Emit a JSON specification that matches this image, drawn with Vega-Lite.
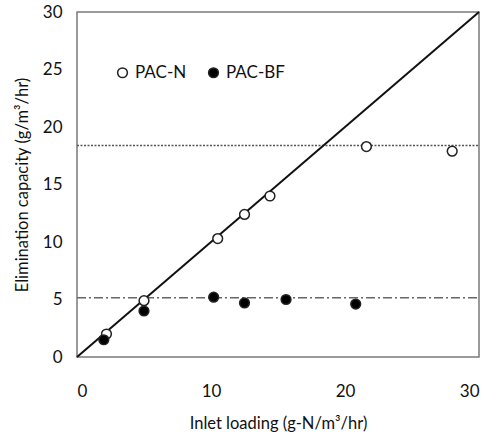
{
  "$schema": "https://vega.github.io/schema/vega-lite/v6.json",
  "width": 402,
  "height": 345,
  "autosize": {"type": "none"},
  "padding": {"left": 77, "top": 12, "right": 16, "bottom": 75},
  "background": "white",
  "config": {
    "font": "Lato",
    "view": {"stroke": "#7a7a7a", "strokeWidth": 1.5},
    "axis": {
      "ticks": false,
      "domain": false,
      "grid": false,
      "labelFont": "Lato",
      "labelFontSize": 17,
      "labelColor": "#111",
      "titleFont": "Lato",
      "titleFontSize": 16.5,
      "titleFontWeight": "normal",
      "titleColor": "#111"
    },
    "legend": {
      "orient": "none",
      "direction": "horizontal",
      "legendX": 37,
      "legendY": 52,
      "padding": 0,
      "labelFont": "Lato",
      "labelFontSize": 17,
      "labelColor": "#111",
      "symbolSize": 95,
      "symbolStrokeColor": "#222",
      "symbolStrokeWidth": 1.5,
      "labelOffset": 4,
      "columnPadding": 18,
      "title": null
    }
  },
  "datasets": {
    "pts": [
      {"series": "PAC-N", "x": 2.2, "y": 2.0},
      {"series": "PAC-N", "x": 5.0, "y": 4.9},
      {"series": "PAC-N", "x": 10.5, "y": 10.3},
      {"series": "PAC-N", "x": 12.5, "y": 12.4},
      {"series": "PAC-N", "x": 14.4, "y": 14.0},
      {"series": "PAC-N", "x": 21.6, "y": 18.3},
      {"series": "PAC-N", "x": 28.0, "y": 17.9},
      {"series": "PAC-BF", "x": 2.0, "y": 1.5},
      {"series": "PAC-BF", "x": 5.0, "y": 4.0},
      {"series": "PAC-BF", "x": 10.2, "y": 5.2},
      {"series": "PAC-BF", "x": 12.5, "y": 4.7},
      {"series": "PAC-BF", "x": 15.6, "y": 5.0},
      {"series": "PAC-BF", "x": 20.8, "y": 4.6}
    ],
    "lines": [
      {"line": "one", "x": 0, "y": 0},
      {"line": "one", "x": 30, "y": 30},
      {"line": "capN", "x": 0, "y": 18.4},
      {"line": "capN", "x": 30, "y": 18.4},
      {"line": "capBF", "x": 0, "y": 5.15},
      {"line": "capBF", "x": 30, "y": 5.15}
    ]
  },
  "encoding": {
    "x": {
      "field": "x",
      "type": "quantitative",
      "scale": {"domain": [0, 30], "nice": false},
      "axis": {"values": [0, 10, 20, 30], "labelPadding": 26, "titlePadding": 16},
      "title": "Inlet loading (g-N/m³/hr)"
    },
    "y": {
      "field": "y",
      "type": "quantitative",
      "scale": {"domain": [0, 30], "nice": false},
      "axis": {"values": [0, 5, 10, 15, 20, 25, 30], "labelPadding": 15, "titlePadding": 12},
      "title": "Elimination capacity (g/m³/hr)"
    }
  },
  "layer": [
    {
      "data": {"name": "lines"},
      "transform": [{"filter": "datum.line === 'capN'"}],
      "mark": {"type": "line", "color": "#555", "strokeWidth": 1.5, "strokeDash": [2, 1.5]},
      "encoding": {}
    },
    {
      "data": {"name": "lines"},
      "transform": [{"filter": "datum.line === 'capBF'"}],
      "mark": {"type": "line", "color": "#666", "strokeWidth": 1.5, "strokeDash": [9, 3, 2, 3]},
      "encoding": {}
    },
    {
      "data": {"name": "lines"},
      "transform": [{"filter": "datum.line === 'one'"}],
      "mark": {"type": "line", "color": "#111", "strokeWidth": 2},
      "encoding": {}
    },
    {
      "data": {"name": "pts"},
      "mark": {"type": "point", "shape": "circle", "size": 95, "stroke": "#222", "strokeWidth": 1.5, "opacity": 1, "filled": false},
      "encoding": {
        "fill": {
          "field": "series",
          "type": "nominal",
          "scale": {"domain": ["PAC-N", "PAC-BF"], "range": ["white", "black"]}
        }
      }
    }
  ]
}
